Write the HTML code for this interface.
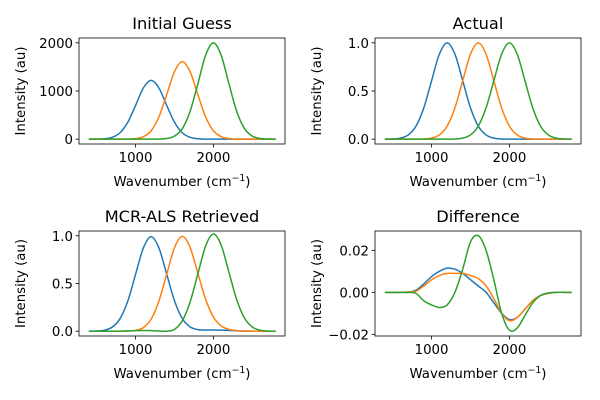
<!DOCTYPE html>
<html><head><meta charset="utf-8"><style>
html,body{margin:0;padding:0;background:#fff;}
svg{display:block;font-family:"DejaVu Sans","Liberation Sans",sans-serif;}
</style></head><body>
<svg id="fig" width="600" height="400" viewBox="0 0 600 400" xmlns="http://www.w3.org/2000/svg"></svg>
<script>
const wavenumbers = [400,500,600,700,800,900,1000,1100,1200,1300,1400,1500,1600,1700,1800,1900,2000,2100,2200,2300,2400,2500,2600,2700,2800];
const guessBlue   = [0,1,8,38,133,351,701,1062,1220,1062,701,351,133,38,8,1,0,0,0,0,0,0,0,0,0];
const guessOrange = [0,0,0,0,0,2,11,51,175,463,925,1401,1610,1401,925,463,175,51,11,2,0,0,0,0,0];
const guessGreen  = [0,0,0,0,0,0,0,0,0,2,14,63,218,575,1149,1741,2000,1741,1149,575,218,63,14,2,0];
const actualBlue   = [0.0003,0.0022,0.0111,0.0439,0.1353,0.3247,0.6065,0.8825,1,0.8825,0.6065,0.3247,0.1353,0.0439,0.0111,0.0022,0.0003,0,0,0,0,0,0,0,0];
const actualOrange = [0,0,0,0,0.0003,0.0022,0.0111,0.0439,0.1353,0.3247,0.6065,0.8825,1,0.8825,0.6065,0.3247,0.1353,0.0439,0.0111,0.0022,0.0003,0,0,0,0];
const actualGreen  = [0,0,0,0,0,0,0,0,0.0003,0.0022,0.0111,0.0439,0.1353,0.3247,0.6065,0.8825,1,0.8825,0.6065,0.3247,0.1353,0.0439,0.0111,0.0022,0.0003];
const mcrBlue   = [0.0003,0.0022,0.0111,0.0429,0.1313,0.3167,0.5965,0.8725,0.99,0.8725,0.5975,0.3197,0.1333,0.0459,0.0171,0.0122,0.0133,0.0120,0.008,0.004,0.0015,0.0005,0,0,0];
const mcrOrange = [0,0,0,0,0.0003,0.0017,0.0081,0.0379,0.1263,0.3157,0.5975,0.8745,0.9935,0.8795,0.6095,0.3347,0.1488,0.0559,0.0191,0.0062,0.0018,0.0005,0,0,0];
const mcrGreen  = [0,0,0,0,0.0005,0.004,0.006,0.0072,0.0063,0.0022,0.0001,0.0199,0.1083,0.3047,0.6005,0.8925,1.018,0.9005,0.6175,0.3297,0.1368,0.0442,0.0111,0.0022,0.0003];
const diffBlue   = [0,0,0,0,0.001,0.004,0.0075,0.010,0.0115,0.011,0.009,0.006,0.003,0,-0.005,-0.010,-0.013,-0.012,-0.008,-0.004,-0.0015,-0.0005,0,0,0];
const diffOrange = [0,0,0,0.0002,0.0005,0.003,0.006,0.008,0.009,0.009,0.009,0.008,0.0065,0.003,-0.003,-0.010,-0.0135,-0.012,-0.008,-0.004,-0.0015,-0.0005,0,0,0];
const diffGreen  = [0,0,0,0,-0.0005,-0.004,-0.006,-0.0072,-0.006,0,0.011,0.024,0.027,0.020,0.006,-0.010,-0.018,-0.017,-0.011,-0.005,-0.0015,-0.0003,0,0,0];
const xTicks = [1000,2000];
const ticksGuess = [0,1000,2000];
const ticksUnit = [0,0.5,1.0];
const tickUnitLabels = ["0.0","0.5","1.0"];
const ticksDiff = [-0.02,0,0.02];
const tickDiffLabels = ["\u22120.02","0.00","0.02"];
const colors = ["#1f77b4","#ff7f0e","#2ca02c"];

const NS="http://www.w3.org/2000/svg";
const svg=document.getElementById('fig');
function mk(tag,attrs,parent){const e=document.createElementNS(NS,tag);for(const k in attrs)e.setAttribute(k,attrs[k]);(parent||svg).appendChild(e);return e;}

const panels=[
 {name:'initial-guess',title:'Initial Guess',box:[79,38,285,144],y:[-100,2100],yt:ticksGuess,yl:ticksGuess.map(String),series:[guessBlue,guessOrange,guessGreen]},
 {name:'actual',title:'Actual',box:[375,38,581,144],y:[-0.05,1.05],yt:ticksUnit,yl:tickUnitLabels,series:[actualBlue,actualOrange,actualGreen]},
 {name:'mcr-als-retrieved',title:'MCR-ALS Retrieved',box:[79,231,285,336],y:[-0.05,1.05],yt:ticksUnit,yl:tickUnitLabels,series:[mcrBlue,mcrOrange,mcrGreen]},
 {name:'difference',title:'Difference',box:[375,231,581,336],y:[-0.0208,0.0292],yt:ticksDiff,yl:tickDiffLabels,series:[diffBlue,diffOrange,diffGreen]}
];
const seriesNames=['blue','orange','green'];
const FS=13.3, TFS=16.2;

panels.forEach(p=>{
  const [x0,y0,x1,y1]=p.box;
  const g=mk('g',{});
  
  
  const X=v=>x0+(v-273)/(2920-273)*(x1-x0);
  const Y=v=>y1-(v-p.y[0])/(p.y[1]-p.y[0])*(y1-y0);
  const cp=mk('clipPath',{id:'clip-'+p.name},g);
  mk('rect',{x:x0,y:y0,width:x1-x0,height:y1-y0},cp);
  p.series.forEach((s,si)=>{
    const pts=wavenumbers.map((w,i)=>[X(w),Y(s[i])]);
    let d='M'+pts[0][0].toFixed(2)+','+pts[0][1].toFixed(2);
    for(let i=0;i<pts.length-1;i++){
      const a=pts[Math.max(0,i-1)],b=pts[i],c=pts[i+1],e=pts[Math.min(pts.length-1,i+2)];
      const c1=[b[0]+(c[0]-a[0])/6,b[1]+(c[1]-a[1])/6];
      const c2=[c[0]-(e[0]-b[0])/6,c[1]-(e[1]-b[1])/6];
      d+='C'+c1[0].toFixed(2)+','+c1[1].toFixed(2)+' '+c2[0].toFixed(2)+','+c2[1].toFixed(2)+' '+c[0].toFixed(2)+','+c[1].toFixed(2);
    }
    const path=mk('path',{d:d,fill:'none',stroke:colors[si],'stroke-width':1.5,'stroke-linejoin':'round','clip-path':'url(#clip-'+p.name+')'},g);
    
    
  });
  const frame=mk('rect',{x:x0,y:y0,width:x1-x0,height:y1-y0,fill:'none',stroke:'#000','stroke-width':0.8},g);
  
  
  xTicks.forEach(t=>{
    const x=X(t);
    mk('line',{x1:x,x2:x,y1:y1,y2:y1+3.5,stroke:'#000','stroke-width':0.8},g);
    const tx=mk('text',{x:x,y:y1+18,'font-size':FS,'text-anchor':'middle',fill:'#000'},g);
    tx.textContent=t;
    
    
  });
  p.yt.forEach((t,i)=>{
    const y=Y(t);
    mk('line',{x1:x0-3.5,x2:x0,y1:y,y2:y,stroke:'#000','stroke-width':0.8},g);
    const tx=mk('text',{x:x0-6,y:y+5,'font-size':FS,'text-anchor':'end',fill:'#000'},g);
    tx.textContent=p.yl[i];
    
    
  });
  const title=mk('text',{x:(x0+x1)/2,y:y0-9,'font-size':TFS,'text-anchor':'middle',fill:'#000'},g);
  title.textContent=p.title;
  
  
  const xl=mk('text',{x:(x0+x1)/2,y:y1+42,'font-size':FS,'text-anchor':'middle',fill:'#000'},g);
  xl.innerHTML='Wavenumber (cm<tspan dy="-5" font-size="9.3">\u22121</tspan><tspan dy="5">)</tspan>';
  
  
  const ylx=x0-54, yly=(y0+y1)/2;
  const yl=mk('text',{x:ylx,y:yly,'font-size':FS,'text-anchor':'middle',fill:'#000',transform:'rotate(-90 '+ylx+' '+yly+')'},g);
  yl.textContent='Intensity (au)';
  
  
});
</script>
</body></html>
